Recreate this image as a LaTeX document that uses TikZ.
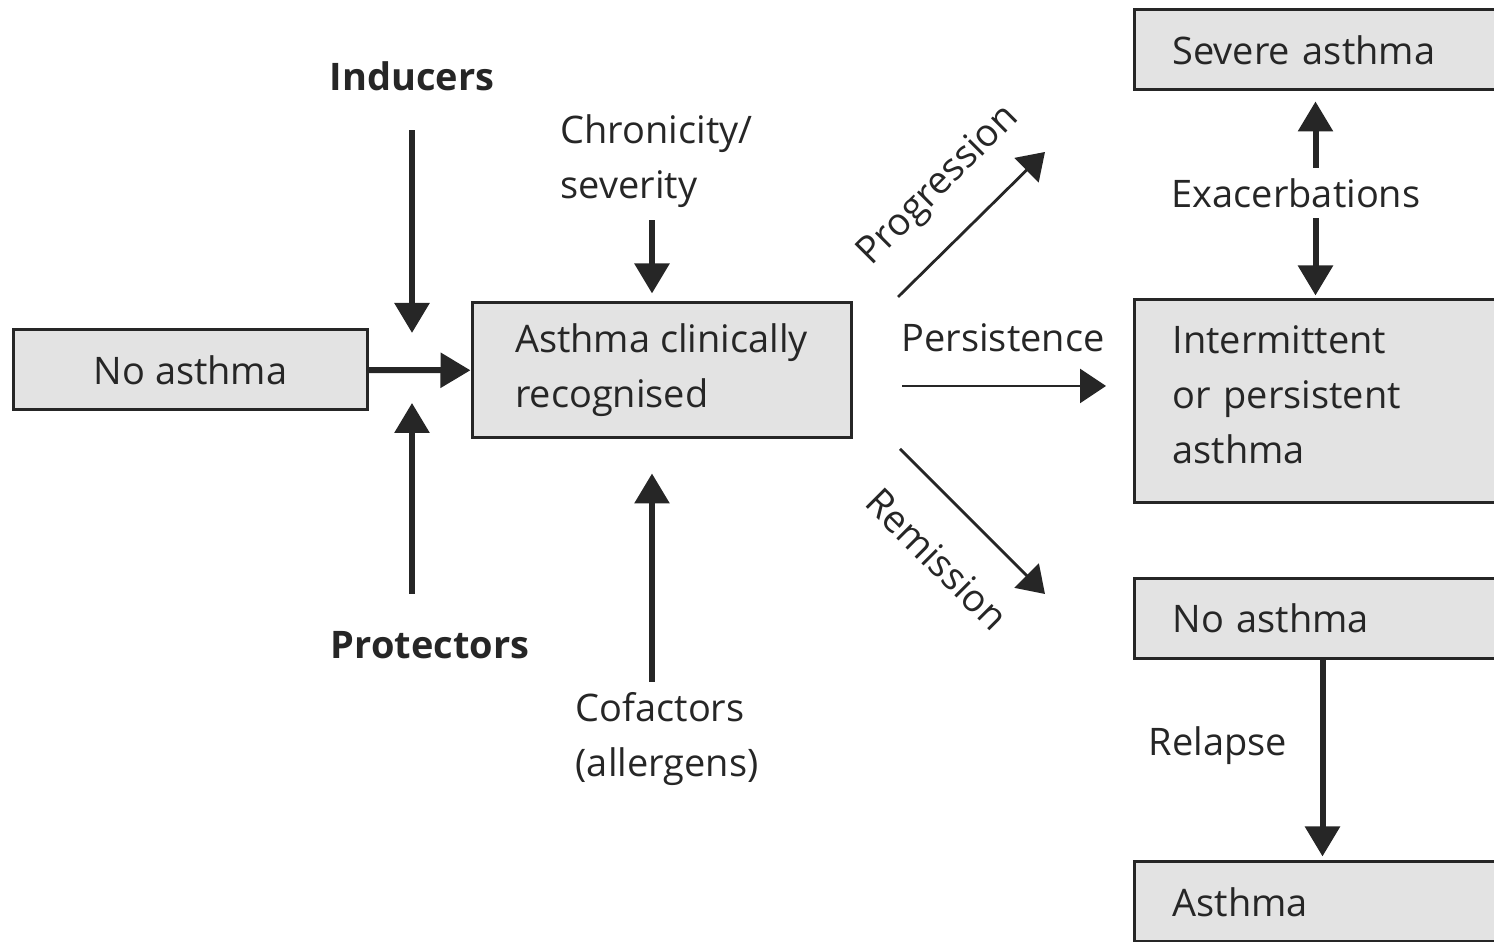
\documentclass[tikz,border=0pt]{standalone}
\usepackage{fontspec}
\setmainfont{Open Sans}
\usetikzlibrary{arrows.meta}

\begin{document}
\begin{tikzpicture}[
    every node/.style={font=\fontsize{10.8}{15.6}\selectfont, text=black!85},
    box/.style={draw=black!85, line width=0.03cm, fill=black!11, minimum height=0.8cm},
    statebox/.style={box, anchor=west, align=left, text width=3.24cm, inner xsep=0.38cm},
    lbl/.style={inner sep=0pt, align=left},
    bigarrow/.style={-{Triangle[length=0.3cm, width=0.34cm]}, line width=0.06cm, draw=black!85},
    thinarrow/.style={-{Triangle[length=0.26cm, width=0.34cm]}, line width=0.028cm, draw=black!85}
  ]
    \useasboundingbox (0,0) rectangle (14.94,9.42);
    \clip (0,0) rectangle (14.94,9.42);
    % left part
    \node[box, minimum width=3.53cm] (noL) at (1.905,5.72) {No asthma};
    \node[box, minimum width=3.79cm, minimum height=1.35cm, align=left] (clin) at (6.615,5.715) {Asthma clinically\\recognised};
    \node[lbl, font=\fontsize{10.8}{15.6}\selectfont\bfseries] (ind) at (4.12,8.66) {Inducers};
    \node[lbl, font=\fontsize{10.8}{15.6}\selectfont\bfseries] (prot) at (4.30,2.97) {Protectors};
    \node[lbl, anchor=west] (chron) at (5.60,7.81) {Chronicity/\\severity};
    \node[lbl, anchor=west] (cof) at (5.75,2.03) {Cofactors\\(allergens)};
    \coordinate (meet) at (4.12,5.72);
    \coordinate (clintop) at ([xshift=-0.095cm]clin.north);
    \coordinate (clinbot) at ([xshift=-0.095cm]clin.south);
    % right part
    \node[statebox] (sev) at (11.33,8.92) {Severe asthma};
    \node[statebox, minimum height=2.03cm] (intm) at (11.33,5.405) {Intermittent\\or persistent\\asthma\rule[-0.14cm]{0pt}{0.14cm}};
    \node[statebox] (noR) at (11.33,3.235) {No asthma};
    \node[statebox] (ast) at (11.33,0.40) {Asthma};
    \node[lbl, anchor=west] (exa) at (11.71,7.49) {Exacerbations};
    \node[lbl, anchor=west] (rel) at (11.48,1.96) {Relapse};
    \node[lbl, rotate=45] (prog) at (9.39,7.56) {Progression};
    \node[lbl] (pers) at (10.03,6.04) {Persistence};
    \node[lbl, rotate=-45] (rem) at (9.37,3.83) {Remission};
    \coordinate (pgs) at (8.98,6.45);
    \coordinate (pge) at (10.45,7.90);
    \coordinate (pss) at (9.02,5.56);
    \coordinate (rms) at (9.00,4.93);
    \coordinate (rme) at (10.45,3.48);
    \coordinate (sevb) at ([xshift=-0.19cm]sev.south);
    \coordinate (intt) at ([xshift=-0.19cm]intm.north);
    \coordinate (noRb) at ([xshift=-0.12cm]noR.south);
    % arrows
    \draw[bigarrow] (noL) -- (clin);
    \draw[bigarrow, shorten <=0.39cm, shorten >=0.37cm] (ind.south) -- (meet);
    \draw[bigarrow, shorten <=0.37cm, shorten >=0.33cm] (prot.north -| meet) -- (meet);
    \draw[bigarrow, shorten <=0.12cm, shorten >=0.08cm] (chron.south -| clintop) -- (clintop);
    \draw[bigarrow, shorten <=0.1cm, shorten >=0.34cm] (cof.north -| clinbot) -- (clinbot);
    \draw[thinarrow] (pgs) -- (pge);
    \draw[thinarrow, shorten >=0.27cm] (pss) -- (pss -| intm.west);
    \draw[thinarrow] (rms) -- (rme);
    \draw[bigarrow, shorten <=0.1cm, shorten >=0.1cm] (exa.north -| sevb) -- (sevb);
    \draw[bigarrow, shorten <=0.1cm, shorten >=0.03cm] (exa.south -| intt) -- (intt);
    \draw[bigarrow, shorten >=0.04cm] (noRb) -- (noRb |- ast.north);
\end{tikzpicture}
\end{document}
